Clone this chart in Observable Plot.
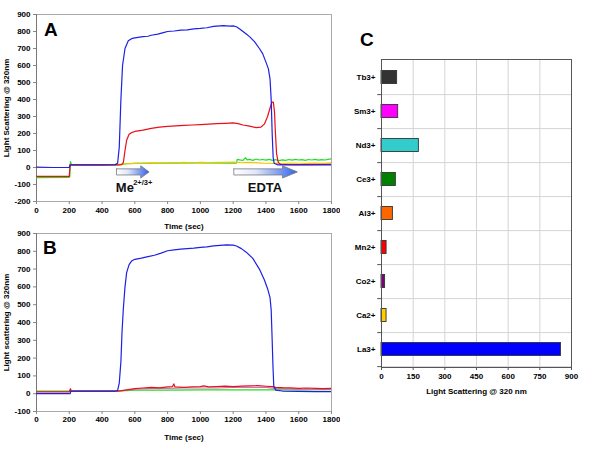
<!DOCTYPE html>
<html><head><meta charset="utf-8">
<script src="https://cdn.jsdelivr.net/npm/d3@7"></script>
<script src="https://cdn.jsdelivr.net/npm/@observablehq/plot@0.6"></script>
<style>
body{margin:0;background:#fff;}
#wrap{position:relative;width:600px;height:450px;overflow:hidden;font-family:"Liberation Sans",Arial,sans-serif;}
.panel{position:absolute;}
.panel svg{background:transparent !important;}
.letter{position:absolute;font:bold 19px/19px "Liberation Sans",Arial,sans-serif;color:#000;}
</style></head>
<body>
<div id="wrap">
  <div class="panel" id="pa" style="left:0;top:0"></div>
  <div class="panel" id="pb" style="left:0;top:226px"></div>
  <div class="panel" id="pc" style="left:330px;top:20px"></div>
  <div class="letter" style="left:44px;top:20px">A</div>
  <div class="letter" style="left:43px;top:238px">B</div>
  <div class="letter" style="left:360px;top:30px">C</div>
</div>
<script>
// ---------- Panel A data: [time (s), light scattering] ----------
const aGreen = [[0,-60],[195,-58],[203,-55],[207,35],[212,20],[220,15],[300,14],[400,14],[500,15],[550,22],[600,24],[800,26],[1000,27],[1200,26],[1220,25],[1225,48],[1240,45],[1260,42],[1275,58],[1285,45],[1300,48],[1320,42],[1340,50],[1360,44],[1380,47],[1400,43],[1420,48],[1440,42],[1460,46],[1480,40],[1500,45],[1520,42],[1540,47],[1560,43],[1580,48],[1600,44],[1620,46],[1640,42],[1660,47],[1680,44],[1700,48],[1720,43],[1740,46],[1760,44],[1780,48],[1800,52]];
const aYellow = [[0,0],[200,0],[205,15],[300,15],[450,16],[500,18],[550,22],[600,24],[650,25],[700,27],[750,26],[800,28],[850,27],[900,30],[950,28],[1000,30],[1050,29],[1100,31],[1150,30],[1200,32],[1250,28],[1300,30],[1350,27],[1400,25],[1450,24],[1500,23],[1550,26],[1600,25],[1650,24],[1700,26],[1750,25],[1800,27]];
const aRed = [[0,-52],[200,-52],[205,15],[300,15],[500,15],[520,17],[530,30],[540,100],[550,160],[565,195],[580,205],[600,212],[650,220],[700,230],[750,237],[800,242],[850,245],[900,248],[950,250],[1000,252],[1050,255],[1100,258],[1150,260],[1200,262],[1230,258],[1260,250],[1300,243],[1340,235],[1370,238],[1390,255],[1410,300],[1425,350],[1437,385],[1445,385],[1452,330],[1458,200],[1465,80],[1475,30],[1490,18],[1600,17],[1800,18]];
const aBlue = [[0,2],[100,0],[200,0],[205,15],[300,15],[400,15],[480,17],[495,25],[505,120],[515,400],[525,600],[540,700],[560,745],[580,758],[600,762],[620,765],[650,770],[680,772],[700,778],[740,785],[780,795],[800,800],[840,803],[880,808],[920,810],[960,815],[1000,818],[1040,822],[1080,830],[1100,832],[1140,835],[1180,832],[1200,833],[1220,828],[1240,815],[1260,800],[1280,785],[1300,770],[1330,740],[1360,700],[1380,670],[1400,620],[1415,580],[1425,520],[1432,400],[1438,200],[1444,60],[1450,25],[1470,16],[1600,15],[1800,15]];

// arrows (annotation) : start time, neck time, tip time
const arrowNames = ["Me", "EDTA"];
const arrowStart = [488, 1204];
const arrowNeck  = [636, 1501];
const arrowTip   = [687, 1592];
const arrowY = -26, bodyHalf = 18, headHalf = 36;
// annotation texts
const noteText = ["Me", "2+/3+", "EDTA"];
const noteT = [484, 590, 1289];
const noteV = [-122, -86, -122];
const noteSize = [13, 7.5, 13];

// ---------- Panel B data ----------
const bGreen = [[0,15],[200,15],[210,15],[500,15],[600,20],[800,20],[1000,21],[1200,22],[1440,22],[1460,22],[1600,22],[1800,23]];
const bPink = [[500,15],[600,25],[700,30],[800,30],[900,32],[1000,32],[1100,32],[1200,35],[1300,35],[1400,36],[1450,30],[1500,28],[1600,26],[1700,25],[1800,25]];
const bRed = [[0,10],[200,10],[207,28],[212,15],[300,15],[450,14],[500,15],[550,22],[600,28],[650,32],[700,35],[750,33],[800,38],[830,40],[838,55],[845,38],[900,36],[950,38],[1000,40],[1020,44],[1050,38],[1100,40],[1150,42],[1200,40],[1250,42],[1300,44],[1350,45],[1400,42],[1440,40],[1460,36],[1500,34],[1550,33],[1600,30],[1650,32],[1700,30],[1750,28],[1800,30]];
const bBlue = [[0,0],[205,0],[210,15],[300,15],[400,15],[480,15],[495,18],[505,60],[515,180],[522,350],[530,480],[540,600],[550,680],[565,725],[580,745],[600,755],[640,762],[680,770],[720,778],[760,790],[800,803],[840,808],[880,812],[920,815],[960,818],[1000,822],[1040,825],[1080,830],[1120,833],[1160,836],[1200,835],[1220,830],[1250,815],[1280,795],[1320,760],[1360,700],[1390,640],[1410,590],[1425,540],[1432,470],[1438,300],[1443,150],[1448,40],[1460,20],[1500,15],[1600,13],[1700,12],[1800,12]];

// ---------- Panel C data ----------
const ions = ["Tb3+","Sm3+","Nd3+","Ce3+","Al3+","Mn2+","Co2+","Ca2+","La3+"];
const ionValues = [74, 79, 177, 68, 54, 24, 17, 24, 850];
const ionColors = ["#333333","#ff00ff","#33cccc","#008000","#ff6600","#ff0000","#800080","#ffcc00","#0000ff"];

// tick labels
const timeTicks = [0,200,400,600,800,1000,1200,1400,1600,1800];
const yTicksA = [-200,-100,0,100,200,300,400,500,600,700,800,900];
const yTicksB = [-100,0,100,200,300,400,500,600,700,800,900];
const cTicks = [0,150,300,450,600,750,900];

const baseStyle = {fontFamily:"Liberation Sans, Arial, sans-serif", fontSize:"8px", fontWeight:"bold", background:"transparent", color:"#000"};
const fmt = d => String(d);
const lineOpts = (stroke) => ({x: d => d[0], y: d => d[1], stroke, strokeWidth: 1.2, clip: true});

// arrow polygons
const arrowPts = [];
arrowNames.forEach((n, i) => {
  const s = arrowStart[i], k = arrowNeck[i], t = arrowTip[i];
  [[s, arrowY+bodyHalf],[k, arrowY+bodyHalf],[k, arrowY+headHalf],[t, arrowY],[k, arrowY-headHalf],[k, arrowY-bodyHalf],[s, arrowY-bodyHalf],[s, arrowY+bodyHalf]]
    .forEach(p => arrowPts.push({name: n, t: p[0], v: p[1]}));
});
const notes = noteText.map((s, i) => ({s, t: noteT[i], v: noteV[i], size: noteSize[i]}));

const plotA = Plot.plot({
  width: 340, height: 232,
  marginLeft: 36, marginRight: 9, marginTop: 14, marginBottom: 31,
  style: baseStyle,
  x: {domain: [0, 1800]},
  y: {domain: [-200, 900]},
  marks: [
    Plot.frame({stroke: "#aaa"}),
    Plot.ruleX([0], {stroke: "#777"}),
    Plot.axisX({ticks: timeTicks, tickFormat: fmt, tickSize: 3, tickPadding: 3, stroke: "#888", label: "Time (sec)", labelArrow: "none", labelAnchor: "center", labelOffset: 27}),
    Plot.axisY({ticks: yTicksA, tickFormat: fmt, tickSize: 3, tickPadding: 3, stroke: "#888", label: "Light Scattering @ 320nm", labelArrow: "none", labelAnchor: "center", labelOffset: 33}),
    Plot.line(aGreen, lineOpts("#22dd22")),
    Plot.line(aYellow, lineOpts("#f5c400")),
    Plot.line(aRed, lineOpts("#e8101a")),
    Plot.line(aBlue, lineOpts("#1f1fe6")),
    Plot.line(arrowPts, {x: "t", y: "v", z: "name", fill: "url(#arrowGrad)", stroke: "#777", strokeWidth: 0.8}),
    Plot.text(notes, {x: "t", y: "v", text: "s", fontSize: d => d.size, fontWeight: "bold", textAnchor: "start", fill: "#111"})
  ]
});
d3.select(plotA).insert("defs", ":first-child").html('<linearGradient id="arrowGrad" x1="0" x2="1" y1="0" y2="0"><stop offset="0" stop-color="#ffffff"/><stop offset="0.35" stop-color="#dfe6fb"/><stop offset="1" stop-color="#2f62e8"/></linearGradient>');
document.getElementById("pa").appendChild(plotA);

const plotB = Plot.plot({
  width: 340, height: 224,
  marginLeft: 36, marginRight: 9, marginTop: 7, marginBottom: 39,
  style: baseStyle,
  x: {domain: [0, 1800]},
  y: {domain: [-100, 900]},
  marks: [
    Plot.frame({stroke: "#aaa"}),
    Plot.ruleX([0], {stroke: "#777"}),
    Plot.axisX({ticks: timeTicks, tickFormat: fmt, tickSize: 3, tickPadding: 2, stroke: "#888", label: "Time (sec)", labelArrow: "none", labelAnchor: "center", labelOffset: 28}),
    Plot.axisY({ticks: yTicksB, tickFormat: fmt, tickSize: 3, tickPadding: 3, stroke: "#888", label: "Light scattering @ 320nm", labelArrow: "none", labelAnchor: "center", labelOffset: 33}),
    Plot.line(bGreen, lineOpts("#22dd22")),
    Plot.line(bPink, lineOpts("#d070c0")),
    Plot.line(bRed, lineOpts("#e8101a")),
    Plot.line(bBlue, lineOpts("#1f1fe6"))
  ]
});
document.getElementById("pb").appendChild(plotB);

const bars = ions.map((ion, i) => ({ion, v: ionValues[i], color: ionColors[i]}));
const bw = (390 - 39 - 43) / ions.length;
const plotC = Plot.plot({
  width: 270, height: 390,
  marginLeft: 51, marginRight: 29, marginTop: 39, marginBottom: 43,
  style: baseStyle,
  x: {domain: [0, 900]},
  y: {domain: ions, padding: 0},
  color: {type: "identity"},
  marks: [
    Plot.gridX({ticks: cTicks, stroke: "#d4d4d4", strokeOpacity: 1}),
    Plot.ruleY(ions, {y: d => d, dy: bw / 2, stroke: "#d4d4d4"}),
    Plot.barX(bars, {x: "v", y: "ion", fill: "color", stroke: "#333", strokeWidth: 0.9, insetTop: 10.5, insetBottom: 10.5}),
    Plot.frame({stroke: "#555"}),
    Plot.axisX({ticks: cTicks, tickFormat: fmt, tickSize: 3, tickPadding: 3, stroke: "#555", label: "Light Scattering @ 320 nm", labelArrow: "none", labelAnchor: "center", labelOffset: 26}),
    Plot.axisY({tickSize: 0, tickPadding: 6, label: null}),
    Plot.ruleY(ions, {y: d => d, dy: bw / 2, x1: -18, x2: 0, stroke: "#555"})
  ]
});
document.getElementById("pc").appendChild(plotC);
</script>
</body></html>
